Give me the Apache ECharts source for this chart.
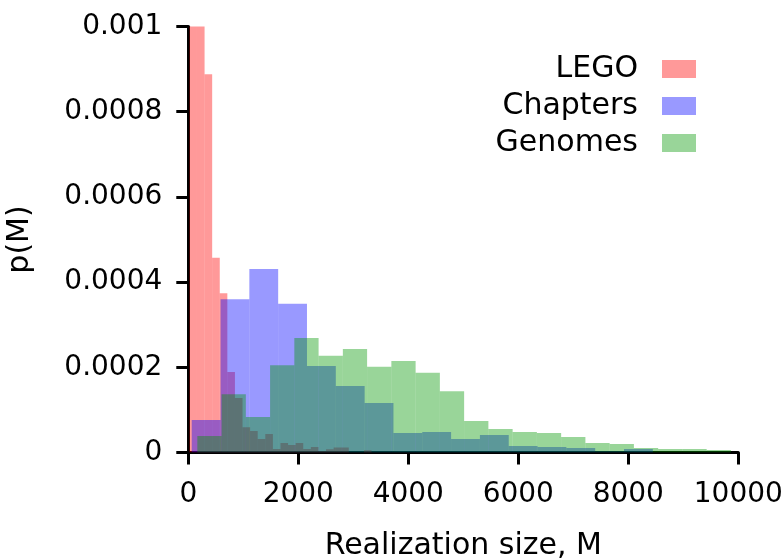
<!DOCTYPE html>
<html>
<head>
<meta charset="utf-8">
<script src="https://cdn.jsdelivr.net/npm/echarts@6/dist/echarts.min.js"></script>
<style>
  html, body { margin: 0; padding: 0; background: #ffffff; }
  #chart { width: 784px; height: 559px; }
</style>
</head>
<body>
<div id="chart"></div>
<script>
// Histogram densities p(M) of realization sizes for three collections.
const seriesNames = ['LEGO', 'Chapters', 'Genomes'];

// LEGO: narrow bins
const legoBinStart = 20;
const legoBinWidth = 138;
const legoDensity = [
  0.0026, 0.0023, 0.000888, 0.000457, 0.000374, 0.000189, 0.000128, 0.0000592,
  0.0000505, 0.0000317, 0.0000434, 0.0000082, 0.0000223, 0.0000176, 0.0000223, 0.0000082,
  0.0000129, 0.0000035, 0.0000075, 0.000012, 0.000012, 0, 0, 0.0000053
];

// Chapters
const chaptersBinStart = 62;
const chaptersBinWidth = 524;
const chaptersDensity = [
  0.0000763, 0.00036, 0.000431, 0.000349, 0.000203, 0.000156, 0.000116, 0.0000458,
  0.0000481, 0.0000317, 0.0000411, 0.0000153, 0.0000129, 0.0000106, 0.000003, 0.0000082
];

// Genomes
const genomesBinStart = 164;
const genomesBinWidth = 441;
const genomesDensity = [
  0.0000387, 0.000137, 0.0000833, 0.000205, 0.000269, 0.000227, 0.000243, 0.000201,
  0.000215, 0.000187, 0.000144, 0.0000739, 0.0000552, 0.0000481, 0.0000458, 0.0000364,
  0.0000223, 0.00002, 0.0000106, 0.0000082, 0.0000082, 0.0000059
];

const xTicks = [0, 2000, 4000, 6000, 8000, 10000];
const yTickLabels = ['0', '0.0002', '0.0004', '0.0006', '0.0008', '0.001'];

const FONT = 'DejaVu Sans';

// [left edge, right edge, density] for each bin
function toBins(start, width, heights) {
  return heights.map((h, i) => [start + i * width, start + (i + 1) * width, h]);
}

function renderBin(params, api) {
  const base = api.coord([api.value(0), 0]);
  const top = api.coord([api.value(1), api.value(2)]);
  return {
    type: 'rect',
    shape: { x: base[0], y: top[1], width: top[0] - base[0], height: base[1] - top[1] },
    style: { fill: api.visual('color') }
  };
}

function histSeries(name, color, bins) {
  return {
    type: 'custom',
    name: name,
    renderItem: renderBin,
    clip: true,
    itemStyle: { color: color },
    encode: { x: [0, 1], y: 2 },
    data: bins
  };
}

const chart = echarts.init(document.getElementById('chart'), null, { renderer: 'canvas' });

chart.setOption({
  animation: false,
  backgroundColor: '#ffffff',
  textStyle: { fontFamily: FONT },
  grid: {
    left: 188.3, right: 45.7, top: 26.5, bottom: 106.5,
    containLabel: false, outerBoundsMode: 'none'
  },
  legend: {
    data: seriesNames,
    orient: 'vertical',
    right: 83,
    top: 49,
    align: 'right',
    icon: 'rect',
    itemWidth: 34,
    itemHeight: 18,
    itemGap: 7,
    selectedMode: false,
    textStyle: { fontFamily: FONT, fontSize: 30, color: '#000', lineHeight: 30, padding: [0, 19, 0, 0] }
  },
  xAxis: {
    type: 'value',
    min: xTicks[0],
    max: xTicks[xTicks.length - 1],
    interval: xTicks[1] - xTicks[0],
    name: 'Realization size, M',
    nameLocation: 'middle',
    nameGap: 79,
    nameTextStyle: { fontFamily: FONT, fontSize: 30, color: '#000' },
    axisLine: { show: true, onZero: false, lineStyle: { color: '#000', width: 3 } },
    axisTick: { show: true, length: 12, lineStyle: { color: '#000', width: 3 } },
    axisLabel: {
      fontFamily: FONT, fontSize: 28, color: '#000', margin: 28,
      formatter: (v) => String(Math.round(v))
    },
    splitLine: { show: false }
  },
  yAxis: {
    type: 'value',
    min: 0,
    max: 0.001,
    interval: 0.0002,
    name: 'p(M)',
    nameLocation: 'middle',
    nameGap: 153,
    nameTextStyle: { fontFamily: FONT, fontSize: 30, color: '#000' },
    axisLine: { show: true, onZero: false, lineStyle: { color: '#000', width: 3 } },
    axisTick: { show: true, length: 12, lineStyle: { color: '#000', width: 3 } },
    axisLabel: {
      fontFamily: FONT, fontSize: 28, color: '#000', margin: 26,
      formatter: (v) => yTickLabels[Math.round(v / 0.0002)]
    },
    splitLine: { show: false }
  },
  series: [
    histSeries(seriesNames[0], 'rgba(255,0,0,0.4)', toBins(legoBinStart, legoBinWidth, legoDensity)),
    histSeries(seriesNames[1], 'rgba(0,0,255,0.4)', toBins(chaptersBinStart, chaptersBinWidth, chaptersDensity)),
    histSeries(seriesNames[2], 'rgba(0,150,0,0.4)', toBins(genomesBinStart, genomesBinWidth, genomesDensity))
  ]
});
</script>
</body>
</html>
